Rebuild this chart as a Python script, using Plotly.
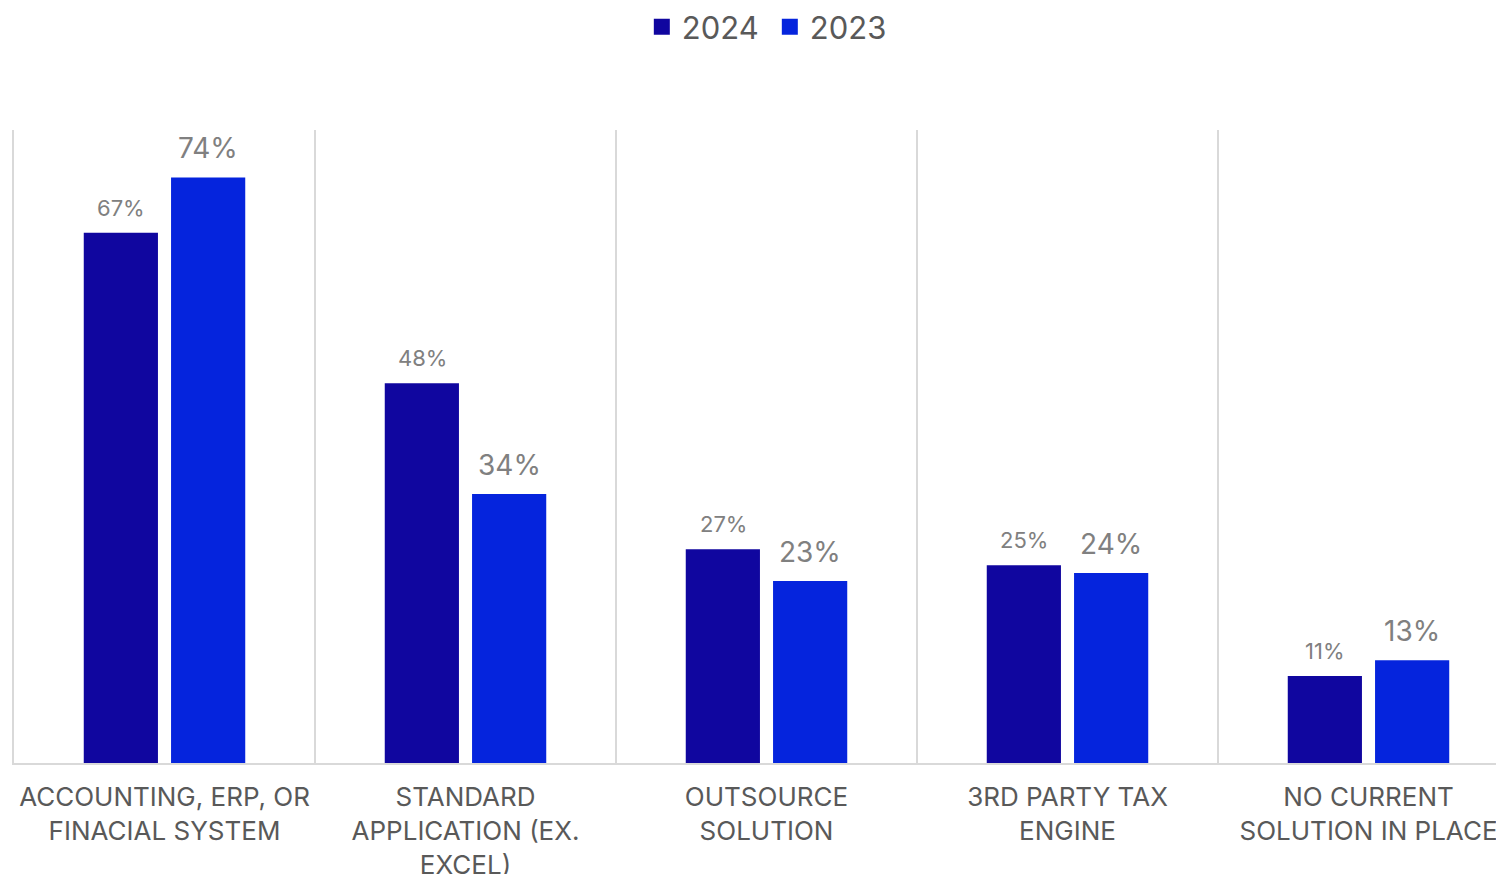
import plotly.graph_objects as go

# Survey categories and response shares (percent)
categories = [
    "ACCOUNTING, ERP, OR<br>FINACIAL SYSTEM",
    "STANDARD<br>APPLICATION (EX.<br>EXCEL)",
    "OUTSOURCE<br>SOLUTION",
    "3RD PARTY TAX<br>ENGINE",
    "NO CURRENT<br>SOLUTION IN PLACE",
]
values_2024 = [67, 48, 27, 25, 11]
values_2023 = [74, 34, 23, 24, 13]

series = [
    ("2024", values_2024, "#10069F", 22, -43.5),
    ("2023", values_2023, "#0524DD", 28, 43.5),
]

W, H = 1496, 874
fig = go.Figure()

for name, vals, color, fsize, xoff in series:
    fig.add_trace(go.Bar(
        x=categories, y=vals, name=name,
        marker=dict(color=color, line=dict(width=0)),
        showlegend=False, hoverinfo="skip",
    ))
    # legend entry with a larger square swatch
    fig.add_trace(go.Scatter(
        x=[None], y=[None], mode="markers", name=name,
        marker=dict(symbol="square", size=18, color=color),
    ))
    for i, v in enumerate(vals):
        fig.add_annotation(
            x=i, y=v, xref="x", yref="y", text=f"{v}%",
            showarrow=False, xshift=xoff, yanchor="bottom", yshift=10,
            font=dict(family="Inter", size=fsize, color="#808080"),
        )

fig.update_layout(
    width=W, height=H,
    margin=dict(l=14, r=0, t=130, b=111, autoexpand=False),
    paper_bgcolor="white", plot_bgcolor="white",
    barmode="group", bargap=0.42, bargroupgap=0.15,
    font=dict(family="Inter", color="#595959"),
    legend=dict(
        orientation="h", x=0.510, xanchor="center",
        yref="container", y=1 - 27 / H, yanchor="middle",
        font=dict(size=31, color="#595959"), itemwidth=30,
        entrywidth=83, entrywidthmode="pixels",
        bgcolor="rgba(0,0,0,0)",
    ),
    xaxis=dict(
        type="category", tickson="boundaries", automargin=False,
        range=[-0.5, 4.5 - 23 / 301],
        showgrid=True, gridcolor="#d9d9d9", gridwidth=2,
        showline=True, linecolor="#d9d9d9", linewidth=2,
        ticks="", ticklabelstandoff=10,
        tickfont=dict(family="Inter", size=26, color="#595959"),
        fixedrange=True, zeroline=False,
    ),
    yaxis=dict(
        range=[0, 80], showgrid=False, showticklabels=False,
        showline=True, linecolor="#d9d9d9", linewidth=2,
        zeroline=False, ticks="", fixedrange=True, automargin=False,
    ),
)

fig.write_html("out.html")
